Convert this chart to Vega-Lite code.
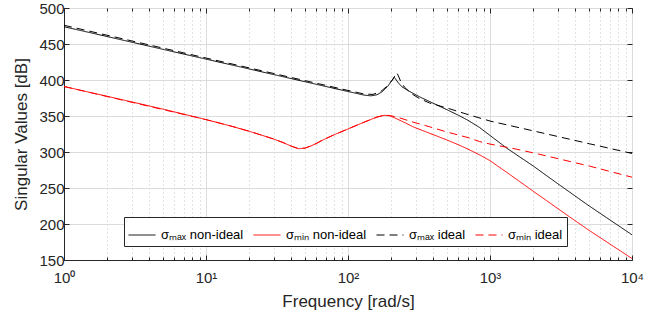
{
  "$schema": "https://vega.github.io/schema/vega-lite/v6.json",
  "width": 568,
  "height": 252,
  "autosize": {"type": "none"},
  "padding": {"left": 64, "top": 8, "right": 28, "bottom": 60},
  "background": "white",
  "config": {
    "view": {"stroke": "#262626", "strokeWidth": 1},
    "axis": {
      "labelFont": "Liberation Sans",
      "labelFontSize": 15,
      "labelColor": "#262626",
      "titleFont": "Liberation Sans",
      "titleFontSize": 17,
      "titleFontWeight": "normal",
      "titleColor": "#262626",
      "domainColor": "#262626",
      "tickColor": "#262626"
    }
  },
  "data": {
    "values": [
      {"s": "σₘₐₓ non-ideal", "f": 1, "v": 474},
      {"s": "σₘₐₓ non-ideal", "f": 2, "v": 460.5},
      {"s": "σₘₐₓ non-ideal", "f": 5, "v": 442.5},
      {"s": "σₘₐₓ non-ideal", "f": 10, "v": 429},
      {"s": "σₘₐₓ non-ideal", "f": 20, "v": 415.5},
      {"s": "σₘₐₓ non-ideal", "f": 50, "v": 397.5},
      {"s": "σₘₐₓ non-ideal", "f": 100, "v": 384},
      {"s": "σₘₐₓ non-ideal", "f": 130, "v": 379},
      {"s": "σₘₐₓ non-ideal", "f": 145, "v": 378},
      {"s": "σₘₐₓ non-ideal", "f": 160, "v": 379.5},
      {"s": "σₘₐₓ non-ideal", "f": 175, "v": 384},
      {"s": "σₘₐₓ non-ideal", "f": 190, "v": 391},
      {"s": "σₘₐₓ non-ideal", "f": 200, "v": 397},
      {"s": "σₘₐₓ non-ideal", "f": 208, "v": 401.5},
      {"s": "σₘₐₓ non-ideal", "f": 212, "v": 403.5},
      {"s": "σₘₐₓ non-ideal", "f": 216, "v": 401.5},
      {"s": "σₘₐₓ non-ideal", "f": 225, "v": 396.5},
      {"s": "σₘₐₓ non-ideal", "f": 240, "v": 390.5},
      {"s": "σₘₐₓ non-ideal", "f": 272, "v": 384},
      {"s": "σₘₐₓ non-ideal", "f": 320, "v": 376.5},
      {"s": "σₘₐₓ non-ideal", "f": 376, "v": 370},
      {"s": "σₘₐₓ non-ideal", "f": 500, "v": 358.5},
      {"s": "σₘₐₓ non-ideal", "f": 600, "v": 351},
      {"s": "σₘₐₓ non-ideal", "f": 700, "v": 344},
      {"s": "σₘₐₓ non-ideal", "f": 845, "v": 334},
      {"s": "σₘₐₓ non-ideal", "f": 1000, "v": 323},
      {"s": "σₘₐₓ non-ideal", "f": 1320, "v": 305},
      {"s": "σₘₐₓ non-ideal", "f": 2000, "v": 281},
      {"s": "σₘₐₓ non-ideal", "f": 3000, "v": 256},
      {"s": "σₘₐₓ non-ideal", "f": 5000, "v": 225},
      {"s": "σₘₐₓ non-ideal", "f": 10000, "v": 185},

      {"s": "σₘᵢₙ non-ideal", "f": 1, "v": 391},
      {"s": "σₘᵢₙ non-ideal", "f": 2, "v": 377.5},
      {"s": "σₘᵢₙ non-ideal", "f": 5, "v": 359.5},
      {"s": "σₘᵢₙ non-ideal", "f": 10, "v": 345},
      {"s": "σₘᵢₙ non-ideal", "f": 15, "v": 336},
      {"s": "σₘᵢₙ non-ideal", "f": 20, "v": 329},
      {"s": "σₘᵢₙ non-ideal", "f": 25, "v": 323},
      {"s": "σₘᵢₙ non-ideal", "f": 30, "v": 318},
      {"s": "σₘᵢₙ non-ideal", "f": 35, "v": 313},
      {"s": "σₘᵢₙ non-ideal", "f": 40, "v": 308},
      {"s": "σₘᵢₙ non-ideal", "f": 45, "v": 304.5},
      {"s": "σₘᵢₙ non-ideal", "f": 50, "v": 305.5},
      {"s": "σₘᵢₙ non-ideal", "f": 55, "v": 308.5},
      {"s": "σₘᵢₙ non-ideal", "f": 60, "v": 312},
      {"s": "σₘᵢₙ non-ideal", "f": 67, "v": 317},
      {"s": "σₘᵢₙ non-ideal", "f": 79, "v": 323.5},
      {"s": "σₘᵢₙ non-ideal", "f": 100, "v": 332},
      {"s": "σₘᵢₙ non-ideal", "f": 130, "v": 341.5},
      {"s": "σₘᵢₙ non-ideal", "f": 160, "v": 348.5},
      {"s": "σₘᵢₙ non-ideal", "f": 180, "v": 351},
      {"s": "σₘᵢₙ non-ideal", "f": 195, "v": 350.5},
      {"s": "σₘᵢₙ non-ideal", "f": 210, "v": 348},
      {"s": "σₘᵢₙ non-ideal", "f": 250, "v": 341},
      {"s": "σₘᵢₙ non-ideal", "f": 287, "v": 335},
      {"s": "σₘᵢₙ non-ideal", "f": 376, "v": 326},
      {"s": "σₘᵢₙ non-ideal", "f": 493, "v": 317},
      {"s": "σₘᵢₙ non-ideal", "f": 600, "v": 310},
      {"s": "σₘᵢₙ non-ideal", "f": 700, "v": 304},
      {"s": "σₘᵢₙ non-ideal", "f": 845, "v": 296},
      {"s": "σₘᵢₙ non-ideal", "f": 1000, "v": 288},
      {"s": "σₘᵢₙ non-ideal", "f": 1200, "v": 277},
      {"s": "σₘᵢₙ non-ideal", "f": 1373, "v": 269},
      {"s": "σₘᵢₙ non-ideal", "f": 2000, "v": 246},
      {"s": "σₘᵢₙ non-ideal", "f": 3630, "v": 210},
      {"s": "σₘᵢₙ non-ideal", "f": 5000, "v": 191},
      {"s": "σₘᵢₙ non-ideal", "f": 10000, "v": 152},

      {"s": "σₘₐₓ ideal", "f": 1, "v": 476},
      {"s": "σₘₐₓ ideal", "f": 10, "v": 430.5},
      {"s": "σₘₐₓ ideal", "f": 100, "v": 385.5},
      {"s": "σₘₐₓ ideal", "f": 130, "v": 380.5},
      {"s": "σₘₐₓ ideal", "f": 150, "v": 380},
      {"s": "σₘₐₓ ideal", "f": 170, "v": 384},
      {"s": "σₘₐₓ ideal", "f": 190, "v": 392},
      {"s": "σₘₐₓ ideal", "f": 205, "v": 400},
      {"s": "σₘₐₓ ideal", "f": 215, "v": 406.5},
      {"s": "σₘₐₓ ideal", "f": 221, "v": 410},
      {"s": "σₘₐₓ ideal", "f": 226, "v": 406},
      {"s": "σₘₐₓ ideal", "f": 235, "v": 398},
      {"s": "σₘₐₓ ideal", "f": 250, "v": 390},
      {"s": "σₘₐₓ ideal", "f": 280, "v": 381},
      {"s": "σₘₐₓ ideal", "f": 320, "v": 374},
      {"s": "σₘₐₓ ideal", "f": 376, "v": 368},
      {"s": "σₘₐₓ ideal", "f": 500, "v": 361},
      {"s": "σₘₐₓ ideal", "f": 700, "v": 352},
      {"s": "σₘₐₓ ideal", "f": 1000, "v": 343},
      {"s": "σₘₐₓ ideal", "f": 2000, "v": 329.5},
      {"s": "σₘₐₓ ideal", "f": 5000, "v": 311.5},
      {"s": "σₘₐₓ ideal", "f": 10000, "v": 298},

      {"s": "σₘᵢₙ ideal", "f": 1, "v": 391},
      {"s": "σₘᵢₙ ideal", "f": 10, "v": 345},
      {"s": "σₘᵢₙ ideal", "f": 15, "v": 336},
      {"s": "σₘᵢₙ ideal", "f": 20, "v": 329},
      {"s": "σₘᵢₙ ideal", "f": 25, "v": 323},
      {"s": "σₘᵢₙ ideal", "f": 30, "v": 318},
      {"s": "σₘᵢₙ ideal", "f": 35, "v": 313},
      {"s": "σₘᵢₙ ideal", "f": 40, "v": 308},
      {"s": "σₘᵢₙ ideal", "f": 45, "v": 304.5},
      {"s": "σₘᵢₙ ideal", "f": 50, "v": 305.5},
      {"s": "σₘᵢₙ ideal", "f": 55, "v": 308.5},
      {"s": "σₘᵢₙ ideal", "f": 60, "v": 312},
      {"s": "σₘᵢₙ ideal", "f": 67, "v": 317},
      {"s": "σₘᵢₙ ideal", "f": 79, "v": 323.5},
      {"s": "σₘᵢₙ ideal", "f": 100, "v": 332},
      {"s": "σₘᵢₙ ideal", "f": 130, "v": 341.5},
      {"s": "σₘᵢₙ ideal", "f": 160, "v": 348.5},
      {"s": "σₘᵢₙ ideal", "f": 180, "v": 351},
      {"s": "σₘᵢₙ ideal", "f": 200, "v": 350.5},
      {"s": "σₘᵢₙ ideal", "f": 230, "v": 347.5},
      {"s": "σₘᵢₙ ideal", "f": 287, "v": 341.5},
      {"s": "σₘᵢₙ ideal", "f": 376, "v": 335},
      {"s": "σₘᵢₙ ideal", "f": 493, "v": 328},
      {"s": "σₘᵢₙ ideal", "f": 700, "v": 320},
      {"s": "σₘᵢₙ ideal", "f": 845, "v": 314.5},
      {"s": "σₘᵢₙ ideal", "f": 1000, "v": 311},
      {"s": "σₘᵢₙ ideal", "f": 1530, "v": 304},
      {"s": "σₘᵢₙ ideal", "f": 2000, "v": 299},
      {"s": "σₘᵢₙ ideal", "f": 5000, "v": 280.5},
      {"s": "σₘᵢₙ ideal", "f": 10000, "v": 265}
    ]
  },
  "layer": [
    {
      "mark": {"type": "line", "strokeWidth": 1, "clip": true},
      "encoding": {
        "x": {
          "field": "f",
          "type": "quantitative",
          "scale": {"type": "log", "domain": [1, 10000], "nice": false},
          "axis": {
            "orient": "bottom",
            "values": [1,2,3,4,5,6,7,8,9,10,20,30,40,50,60,70,80,90,100,200,300,400,500,600,700,800,900,1000,2000,3000,4000,5000,6000,7000,8000,9000,10000],
            "grid": true,
            "gridColor": {"condition": {"test": "indexof([1,10,100,1000,10000], datum.value) >= 0", "value": "#dcdcdc"}, "value": "#c4c4c4"},
            "gridDash": {"condition": {"test": "indexof([1,10,100,1000,10000], datum.value) >= 0", "value": []}, "value": [1, 3]},
            "tickSize": {"condition": {"test": "indexof([1,10,100,1000,10000], datum.value) >= 0", "value": -5}, "value": -3},
            "labelExpr": "datum.value == 1 ? '10⁰' : datum.value == 10 ? '10¹' : datum.value == 100 ? '10²' : datum.value == 1000 ? '10³' : datum.value == 10000 ? '10⁴' : ''",
            "labelFlush": false,
            "labelOverlap": false,
            "labelPadding": 15,
            "title": "Frequency [rad/s]",
            "titlePadding": 6
          }
        },
        "y": {
          "field": "v",
          "type": "quantitative",
          "scale": {"domain": [150, 500], "nice": false, "zero": false},
          "axis": {
            "orient": "left",
            "values": [150, 200, 250, 300, 350, 400, 450, 500],
            "grid": true,
            "gridColor": "#dcdcdc",
            "tickSize": -5,
            "labelPadding": 5,
            "title": "Singular Values [dB]",
            "titlePadding": 8
          }
        },
        "color": {
          "field": "s",
          "type": "nominal",
          "scale": {
            "domain": ["σₘₐₓ non-ideal", "σₘᵢₙ non-ideal", "σₘₐₓ ideal", "σₘᵢₙ ideal"],
            "range": ["#000000", "#ff0000", "#000000", "#ff0000"]
          },
          "legend": {
            "title": null,
            "orient": "none",
            "legendX": 60,
            "legendY": 209,
            "direction": "horizontal",
            "columns": 4,
            "symbolType": "stroke",
            "symbolSize": 729,
            "symbolStrokeWidth": 1,
            "labelFont": "Liberation Sans",
            "labelFontSize": 13,
            "labelColor": "#000000",
            "labelLimit": 0,
            "labelOffset": 5,
            "columnPadding": 7,
            "fillColor": "white",
            "strokeColor": "#262626",
            "padding": 4
          }
        },
        "strokeDash": {
          "field": "s",
          "type": "nominal",
          "scale": {
            "domain": ["σₘₐₓ non-ideal", "σₘᵢₙ non-ideal", "σₘₐₓ ideal", "σₘᵢₙ ideal"],
            "range": [[1, 0], [1, 0], [8, 5], [8, 5]]
          },
          "legend": {
            "title": null,
            "orient": "none",
            "legendX": 60,
            "legendY": 209,
            "direction": "horizontal",
            "columns": 4,
            "symbolType": "stroke",
            "symbolSize": 729,
            "symbolStrokeWidth": 1,
            "labelFont": "Liberation Sans",
            "labelFontSize": 13,
            "labelColor": "#000000",
            "labelLimit": 0,
            "labelOffset": 5,
            "columnPadding": 7,
            "fillColor": "white",
            "strokeColor": "#262626",
            "padding": 4
          }
        }
      }
    },
    {
      "mark": {"type": "line", "strokeOpacity": 0},
      "encoding": {
        "x": {
          "field": "f",
          "type": "quantitative",
          "axis": {
            "orient": "top",
            "values": [1,2,3,4,5,6,7,8,9,10,20,30,40,50,60,70,80,90,100,200,300,400,500,600,700,800,900,1000,2000,3000,4000,5000,6000,7000,8000,9000,10000],
            "grid": false,
            "labels": false,
            "domain": false,
            "tickSize": {"condition": {"test": "indexof([1,10,100,1000,10000], datum.value) >= 0", "value": -5}, "value": -3},
            "title": null
          }
        },
        "y": {
          "field": "v",
          "type": "quantitative",
          "axis": {
            "orient": "right",
            "values": [150, 200, 250, 300, 350, 400, 450, 500],
            "grid": false,
            "labels": false,
            "domain": false,
            "tickSize": -5,
            "title": null
          }
        }
      }
    }
  ],
  "resolve": {"axis": {"x": "independent", "y": "independent"}}
}
